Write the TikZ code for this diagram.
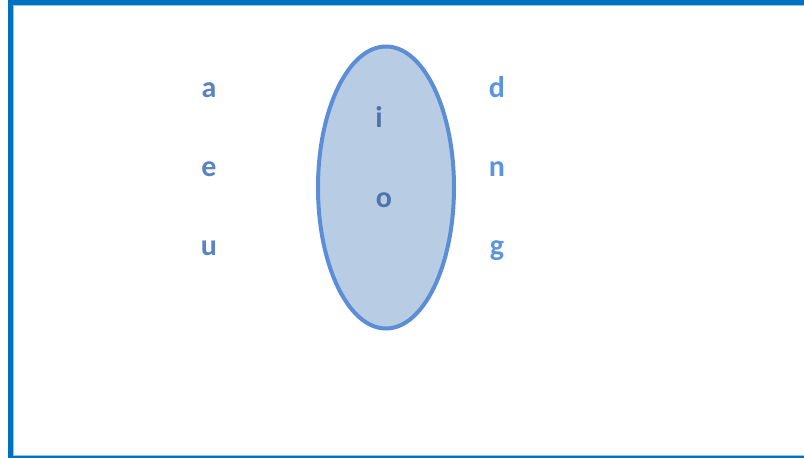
\documentclass[tikz,border=0pt]{standalone}
\usepackage{fontspec}
\setmainfont{Carlito}
\usetikzlibrary{shapes.geometric}
\definecolor{frameblue}{HTML}{0070C0}
\definecolor{framelight}{HTML}{9DC3E6}
\definecolor{ellline}{HTML}{5B8ED6}
\definecolor{ellfill}{HTML}{B8CCE4}
\definecolor{lefttxt}{HTML}{5A82C4}
\definecolor{righttxt}{HTML}{5B95DC}
\definecolor{intxt}{HTML}{4F74AC}
\begin{document}
\begin{tikzpicture}[x=1pt,y=-1pt,
  letter/.style={font=\fontsize{30}{30}\selectfont\bfseries, inner sep=0pt, anchor=base},
  leftletter/.style={letter, text=lefttxt},
  rightletter/.style={letter, text=righttxt},
  inletter/.style={letter, text=intxt}]
\useasboundingbox (0,0) rectangle (804,458);
\clip (0,0) rectangle (804,458);
\fill[white] (0,0) rectangle (804,458);
\draw[frameblue, line width=5pt] (10.5,2.5) rectangle (830,458.5);
\draw[framelight, line width=1.2pt] (13.6,5.6) rectangle (830,455.2);
\node[ellipse, draw=ellline, fill=ellfill, line width=4pt, minimum width=136pt, minimum height=282pt, inner sep=0pt] (set) at (386,187.5) {};
\node[leftletter] (a) at (209,97) {a};
\node[leftletter] (e) at (209,176) {e};
\node[leftletter] (u) at (209,255) {u};
\node[inletter] (i) at (379,127) {i};
\node[inletter] (o) at (384,207) {o};
\node[rightletter] (d) at (497,97) {d};
\node[rightletter] (n) at (497,176) {n};
\node[rightletter] (g) at (497,255) {g};
\end{tikzpicture}
\end{document}
